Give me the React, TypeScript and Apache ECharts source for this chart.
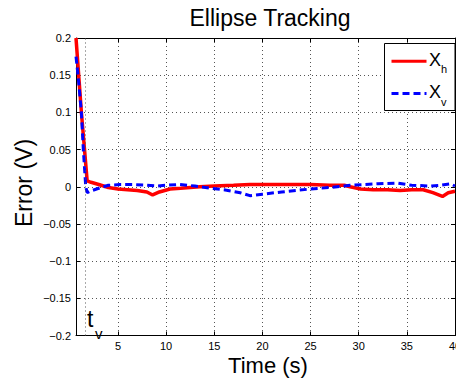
import React, { useEffect, useRef } from "react";
import * as echarts from "echarts";

const redT = [0.64, 1.2, 1.8, 2.2, 3, 4, 5, 6, 7, 8, 8.6, 9.3, 10.4, 11.5, 13.5, 15, 17, 18.7, 21, 23, 25, 27, 28.5, 29.1, 30.2, 31.5, 33, 34.3, 35.5, 36.7, 37.7, 38.7, 39.3, 40];
const redV = [0.2, 0.1, 0.008, 0.006, 0.003, -0.001, -0.003, -0.004, -0.005, -0.007, -0.011, -0.007, -0.003, -0.002, 0, 0.001, 0.002, 0.003, 0.003, 0.003, 0.003, 0.002, 0.002, 0, -0.003, -0.004, -0.004, -0.005, -0.004, -0.004, -0.008, -0.013, -0.008, -0.006];
const blueT = [0.64, 0.85, 1.2, 1.4, 1.65, 1.8, 2.1, 3, 4, 5.2, 6.5, 8, 9, 10, 11.4, 13, 14.6, 16, 17.7, 18.7, 20, 22, 25, 27, 28.5, 29.1, 30.5, 32, 34, 35.5, 37.4, 38.5, 39.5, 40];
const blueV = [0.175, 0.15, 0.1, 0.05, 0, -0.008, -0.006, -0.002, 0.002, 0.003, 0.003, 0.002, 0.001, 0.002, 0.003, 0.001, -0.002, -0.004, -0.008, -0.012, -0.01, -0.007, -0.003, -0.001, 0.001, 0.002, 0.003, 0.004, 0.005, 0.002, 0.001, 0.002, 0.004, 0.001];
const tV = 1.56;
const xMin = 0.64;
const xMax = 40;
const yMin = -0.2;
const yMax = 0.2;
const yStep = 0.05;
const xStep = 5;

const FONT = "Liberation Sans, Arial, Helvetica, sans-serif";

function fmtY(v: number): string {
  if (Math.abs(v) < 1e-9) return "0";
  const s = String(parseFloat(Math.abs(v).toFixed(2)));
  return (v < 0 ? "\u2212" : "") + s;
}

export default function App() {
  const ref = useRef<HTMLDivElement>(null);
  useEffect(() => {
    if (!ref.current) return;
    const chart = echarts.init(ref.current, undefined, { renderer: "svg" });
    const grid = { left: 76, top: 38, width: 379, height: 297.5, outerBoundsMode: "none", containLabel: false };
    const gridLine = { show: true, lineStyle: { color: "#555", width: 1, type: [1, 3] as any } };
    const axisLine = { show: true, onZero: false, lineStyle: { color: "#000", width: 1 } };
    const tick = { show: true, inside: true, length: 4, lineStyle: { color: "#000" } };
    chart.setOption({
      animation: false,
      grid,
      xAxis: [
        {
          type: "value", min: xMin, max: xMax, minInterval: xStep, maxInterval: xStep, splitNumber: 8,
          axisLine, axisTick: tick, splitLine: gridLine,
          axisLabel: {
            color: "#000", fontSize: 11, fontFamily: FONT, margin: 5, showMinLabel: false,
            formatter: (v: number) => (Math.abs(v / xStep - Math.round(v / xStep)) < 1e-6 ? String(Math.round(v)) : ""),
          },
        },
        {
          type: "value", position: "top", min: xMin, max: xMax, minInterval: xStep, maxInterval: xStep, splitNumber: 8,
          axisLine, axisTick: tick, splitLine: { show: false }, axisLabel: { show: false },
        },
      ],
      yAxis: [
        {
          type: "value", min: yMin, max: yMax, interval: yStep,
          axisLine, axisTick: tick, splitLine: gridLine,
          axisLabel: { color: "#000", fontSize: 11, fontFamily: FONT, margin: 5, formatter: fmtY },
        },
        {
          type: "value", position: "right", min: yMin, max: yMax, interval: yStep,
          axisLine, axisTick: tick, splitLine: { show: false }, axisLabel: { show: false },
        },
      ],
      series: [
        {
          type: "line", name: "Xh", showSymbol: false, symbol: "none",
          data: redT.map((t, i) => [t, redV[i]]),
          lineStyle: { color: "#ff0000", width: 3.5 },
          markLine: {
            silent: true, symbol: "none", label: { show: false },
            lineStyle: { color: "#555", width: 1, type: [1, 3] as any },
            data: [{ xAxis: tV }],
          },
          z: 2,
        },
        {
          type: "line", name: "Xv", showSymbol: false, symbol: "none",
          data: blueT.map((t, i) => [t, blueV[i]]),
          lineStyle: { color: "#0000ff", width: 3, type: [7, 4] as any },
          z: 3,
        },
      ],
      graphic: [
        { type: "text", x: 270, y: 18, z: 100, style: { text: "Ellipse Tracking", font: `23px ${FONT}`, fill: "#000", textAlign: "center", textVerticalAlign: "middle" } },
        { type: "text", x: 268, y: 365, z: 100, style: { text: "Time (s)", font: `22px ${FONT}`, fill: "#000", textAlign: "center", textVerticalAlign: "middle" } },
        { type: "text", x: 24, y: 183, rotation: Math.PI / 2, z: 100, style: { text: "Error (V)", font: `23px ${FONT}`, fill: "#000", textAlign: "center", textVerticalAlign: "middle" } },
        { type: "text", x: 87, y: 319, z: 100, style: { text: "t", font: `23px ${FONT}`, fill: "#000", textAlign: "left", textVerticalAlign: "middle" } },
        { type: "text", x: 95, y: 333, z: 100, style: { text: "v", font: `15px ${FONT}`, fill: "#000", textAlign: "left", textVerticalAlign: "middle" } },
        { type: "rect", z: 100, shape: { x: 384.5, y: 43.5, width: 70.5, height: 67 }, style: { fill: "#fff", stroke: "#000", lineWidth: 1 } },
        { type: "line", z: 101, shape: { x1: 391.5, y1: 61.3, x2: 426.5, y2: 61.3 }, style: { stroke: "#ff0000", lineWidth: 3 } },
        { type: "line", z: 101, shape: { x1: 391.5, y1: 93.5, x2: 426.5, y2: 93.5 }, style: { stroke: "#0000ff", lineWidth: 3, lineDash: [7, 4] } },
        { type: "text", x: 429, y: 60, z: 101, style: { text: "X", font: `18px ${FONT}`, fill: "#000", textAlign: "left", textVerticalAlign: "middle" } },
        { type: "text", x: 441, y: 69, z: 101, style: { text: "h", font: `11px ${FONT}`, fill: "#000", textAlign: "left", textVerticalAlign: "middle" } },
        { type: "text", x: 429, y: 92, z: 101, style: { text: "X", font: `18px ${FONT}`, fill: "#000", textAlign: "left", textVerticalAlign: "middle" } },
        { type: "text", x: 441, y: 101.5, z: 101, style: { text: "v", font: `11px ${FONT}`, fill: "#000", textAlign: "left", textVerticalAlign: "middle" } },
      ],
    });
    return () => chart.dispose();
  }, []);
  return (
    <div style={{ position: "fixed", left: 0, top: 0, width: 456, height: 379, overflow: "hidden", background: "#fff" }}>
      <div ref={ref} style={{ width: 480, height: 379 }} />
    </div>
  );
}
